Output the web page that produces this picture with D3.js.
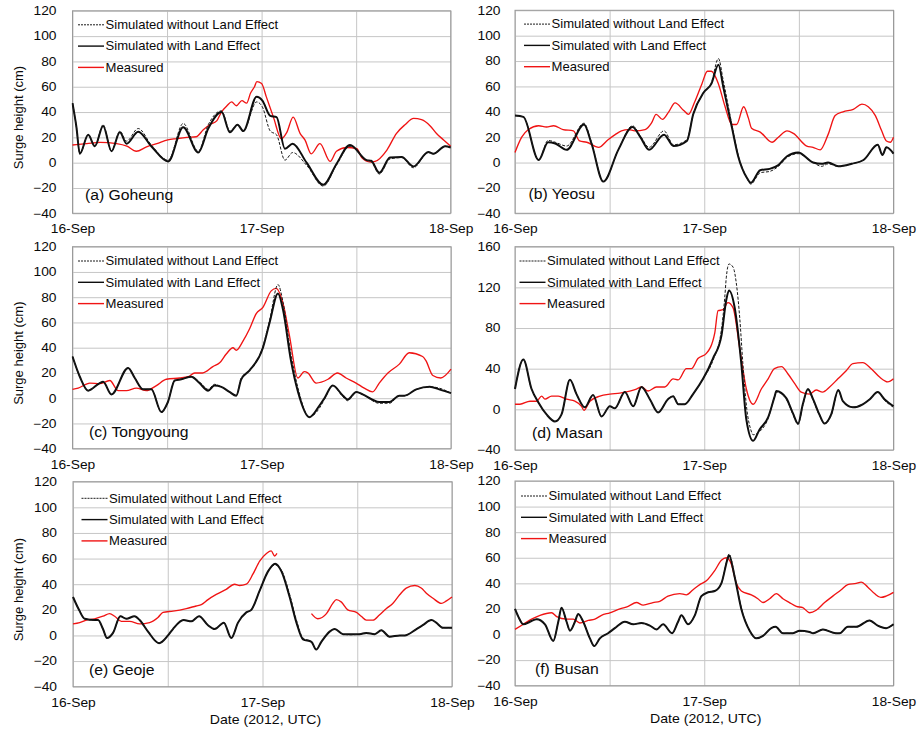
<!DOCTYPE html>
<html>
<head>
<meta charset="utf-8">
<script src="https://cdn.jsdelivr.net/npm/d3@7"></script>
<style>
  body { margin: 0; background: #fff; }
  svg { display: block; }
  text { font-family: "Liberation Sans", Arial, Helvetica, sans-serif; fill: #0a0a0a; }
</style>
</head>
<body>
<svg id="chart" width="921" height="732"></svg>
<script>
// Surge height (cm) at six tide stations, 16-18 Sep 2012 (UTC).
// Each series is a list of [hours after 16-Sep 00:00, surge in cm].

const seriesNames = ["Simulated without Land Effect", "Simulated with Land Effect", "Measured"];
const xTickLabels = ["16-Sep", "17-Sep", "18-Sep"];
const stationLabels = ["(a) Goheung", "(b) Yeosu", "(c) Tongyoung", "(d) Masan", "(e) Geoje", "(f) Busan"];

// (a) Goheung
const goheungWithout = [[0,47],[0.5,28],[0.93,7],[1.99,22],[2.84,13],[3.89,30],[4.95,9],[6.01,25],[6.86,17],[8.34,27],[10,14],[12.15,2],[14.05,31],[15.96,9],[17.23,30],[18.92,41],[19.98,25],[20.95,30],[21.67,25],[23.37,48],[24.1,44],[25.1,25],[25.9,22],[26.96,2],[27.94,8],[29.71,-2],[31.83,-18.5],[33.5,-2],[35.22,13],[37.33,2],[37.9,1],[38.94,-9],[40.3,3],[41.78,4],[43.26,-4],[45.16,8],[45.8,7],[47.3,13],[48,12]];
const goheungWith = [[0,47],[0.5,28],[0.93,7],[1.99,22],[2.84,13],[3.89,29],[4.95,9],[6.01,24],[6.86,15],[8.34,24.5],[10,13],[12.15,1],[14.05,28],[15.96,8],[17.23,27],[18.92,40],[19.98,24],[20.95,30],[21.67,25],[23.37,52],[24.1,49],[25.1,37],[25.9,36],[26.96,11],[27.94,15],[29.71,0],[31.83,-17.5],[33.5,-1],[35.22,14],[37.33,2],[37.9,1.5],[38.94,-8],[40.3,4],[41.78,4.5],[43.26,-3],[45.16,8.5],[45.8,7],[47.3,13],[48,12]];
const goheungMeasured = [[0,14],[1.8,15],[3.5,16],[5.6,15],[6.9,13],[8.1,9],[9.4,12.5],[10.7,15],[12.1,18],[13.2,19],[14.5,20],[15.7,20.5],[16.6,26],[17.4,30],[18.3,33],[18.9,40],[19.6,45],[20.2,48],[20.8,45],[21.5,49],[22.1,47],[22.6,55],[23.1,60],[23.4,64],[24,62.5],[24.6,52],[25.5,36],[26.5,19],[27.2,24],[28,36],[28.9,23],[29.5,18],[30.3,7],[31.4,15],[32.7,1],[33.5,9],[34.8,12],[36.1,11],[36.7,4],[37.8,0.5],[38.4,1],[39.9,10],[41.1,23],[42.2,30],[43.3,35],[44.3,34],[45.4,29],[46.2,23],[47.1,18],[48,13]];

// (b) Yeosu
const yeosuWithout = [[0,37],[1.06,36],[3,2],[4.2,17.5],[5.1,16],[6.55,13],[8.75,31],[9.7,16],[11.2,-15],[13.1,10],[14.9,29],[15.9,21],[17,12],[18.9,25],[20.1,14],[21.8,18],[22.6,38],[23.9,55],[24.9,63],[25.8,82],[26.4,65],[27.5,30],[28.3,6],[29.4,-12],[29.9,-17],[31.1,-8],[32.3,-7],[33.4,-3],[34.5,4],[35.9,7],[37.8,0],[38.9,-3],[39.7,-1],[41,-3],[42.7,-1],[44.2,2],[46,14],[46.6,6],[47.1,12],[48,7]];
const yeosuWith = [[0,37],[1.06,36],[3,2],[4.2,16],[5.1,15],[6.55,10],[8.75,30],[9.7,15],[11.2,-15],[13.1,10],[14.9,28],[15.9,20],[17,10],[18.9,22],[20.1,13],[21.8,17],[22.6,38],[23.9,55],[24.9,62],[25.8,77],[26.4,60],[27.5,28],[28.3,5],[29.4,-12],[29.9,-16],[31.1,-6],[32.3,-5],[33.4,-2],[34.5,5],[35.9,8],[37.8,0],[38.9,-1],[39.7,0],[41,-3],[42.7,-1],[44.2,2],[46,14],[46.6,6],[47.1,12],[48,7]];
const yeosuMeasured = [[0,8],[0.85,20],[1.7,26],[3,29],[4,28],[4.9,29],[6.1,26],[7.4,25],[8.2,17],[9.1,16],[10.6,12],[11.8,18],[12.7,22],[13.5,25],[14.4,26],[15.2,25],[16.5,26],[17.3,31],[17.9,38],[18.7,34],[19.5,40],[20.3,47],[21.4,41],[22,38],[22.8,48],[23.7,62],[24.4,72],[24.9,72],[25.8,62],[26.6,45],[27.5,30],[28.1,30],[29,44],[29.6,35],[30,27],[31.1,24],[32.6,16],[33.4,20],[34.5,25],[35.3,23],[37,13],[37.8,12],[38.7,10],[39.7,22],[40.6,37],[41.6,40],[42.9,42],[44,46],[44.8,44],[45.7,37],[46.5,25],[47.1,17],[47.6,16],[48,20]];

// (c) Tongyoung
const tongyoungWithout = [[0,33],[0.93,17],[1.98,6],[3.46,12],[3.88,13],[4.94,3],[7.05,24],[7.9,16],[8.95,7],[10,7],[11.27,-11],[12.1,-3],[12.96,14],[13.8,15],[15.07,17],[16.1,13],[17.2,7],[18,11],[18.87,9],[19.9,5],[20.77,2],[21.4,16],[22.46,22],[24.15,41],[25,62],[26.06,90],[26.7,76],[27.7,35],[28.6,8],[30.05,-15],[31.3,-8],[31.95,-1],[33,10],[34.3,1],[34.9,-2],[36,5],[36.8,3],[38.9,-4],[40.2,-4],[41.45,2],[42.1,2],[43.6,7],[45.3,9],[46.5,8],[48,4]];
const tongyoungWith = [[0,33],[0.93,17],[1.98,6],[3.46,12],[3.88,13],[4.94,3],[7.05,24],[7.9,16],[8.95,7],[10,7],[11.27,-11],[12.1,-3],[12.96,14],[13.8,15],[15.07,17],[16.1,12],[17.2,6],[18,10],[18.87,9],[19.9,5],[20.77,2],[21.4,15],[22.46,22],[24.15,40],[25,60],[26.06,83],[26.7,70],[27.7,30],[28.6,5],[30.05,-15],[31.3,-6],[31.95,0],[33,10],[34.3,2],[34.9,-1],[36,5],[36.8,3],[38.9,-3],[40.2,-3],[41.45,2],[42.1,2],[43.6,7],[45.3,9],[46.5,7],[48,4]];
const tongyoungMeasured = [[0,7],[0.72,8],[2.2,12],[3.46,11.5],[4.73,14],[5.8,6],[6.84,6],[8.1,8],[9.37,6],[10.64,10],[11.9,15],[13.6,16],[14.65,17],[15.5,20],[16.5,20],[17.8,25],[18.66,28],[19.5,35],[20.35,40],[20.77,38],[21.6,45],[22.46,55],[23.3,67],[24.15,72],[25.2,85],[25.83,87],[26.7,75],[27.5,50],[28.58,16],[29.4,21],[29.84,20],[30.9,12],[32.4,15],[33.6,20],[34.7,16],[35.96,12],[37,8],[38.07,5],[38.9,12],[40,20],[41.45,27],[42.7,36],[44.4,33],[44.8,30],[45.7,18],[46.7,16],[48,23]];

// (d) Masan
const masanWithout = [[0,20],[1.06,49],[2.1,20],[2.95,7],[4,-5],[5.07,-12],[5.9,-5],[6.97,29],[7.8,15],[8.86,2],[9.9,14],[10.97,-7],[12.03,3],[12.66,1],[13.93,17],[14.99,3],[16.04,22],[17.1,10],[18.15,-3],[19.4,10],[20.05,13],[20.7,5],[21.53,5],[22.58,15],[23.85,30],[25.1,48],[26.17,78],[26.6,110],[26.8,130],[27.14,143],[27.65,140],[28.1,122],[28.5,90],[28.9,45],[29.4,0],[29.9,-20],[30.2,-25],[31,-22],[32.1,-9],[32.9,12],[33.15,17],[34.4,10],[35.25,-5],[35.9,-15],[36.5,4],[37.15,19],[37.8,9],[38.6,-6],[39.26,-14],[40.1,-6],[41,18],[41.58,8],[42.85,2],[44.1,5],[45,10],[46,17],[46.85,9],[48,2]];
const masanWith = [[0,20],[1.06,49],[2.1,20],[2.95,7],[4,-5],[5.07,-12],[5.9,-5],[6.97,29],[7.8,15],[8.86,2],[9.9,14],[10.97,-7],[12.03,3],[12.66,1],[13.93,17],[14.99,3],[16.04,22],[17.1,10],[18.15,-3],[19.4,10],[20.05,13],[20.7,5],[21.53,5],[22.58,15],[23.85,30],[25.1,50],[26.17,72],[26.8,108],[27.14,117],[27.86,100],[28.7,45],[29.34,-10],[30.2,-31],[31,-20],[32.1,-8],[32.9,12],[33.15,18],[34.4,11],[35.25,-4],[35.9,-14],[36.5,5],[37.15,20],[37.8,10],[38.6,-5],[39.26,-14],[40.1,-5],[41,19],[41.58,8],[42.85,2],[44.1,5],[45,10],[46,17],[46.85,10],[48,3]];
const masanMeasured = [[0,5],[0.63,5],[1.9,8],[2.74,8],[3.38,13],[3.8,10],[4.64,13],[5.49,13],[6.54,10],[7.6,8],[8.44,3],[8.74,-1],[9.5,8],[10.76,13],[12.03,15],[13.3,16],[14.56,18],[15.4,20],[16.04,22],[16.88,18],[17.94,22],[19,22],[20.05,30],[20.7,29],[21.74,40],[22.37,40],[23.2,50],[24.27,55],[25.33,75],[25.75,97],[26.38,98],[27,105],[27.65,100],[28.5,60],[29.34,20],[30.2,5],[31.24,20],[32.1,30],[32.9,40],[33.8,42],[34.6,35],[35.5,25],[36.3,17],[37.36,15],[38.2,19],[39,17],[39.9,22],[40.95,30],[42,38],[42.85,45],[44.1,46],[45.17,40],[46.2,32],[47.28,27],[48,30]];

// (e) Geoje
const geojeWithout = [[0,30],[0.76,20],[1.48,13],[2.74,12],[3.17,12],[3.8,5],[4.3,-2],[5.07,2],[6,15],[6.75,13],[7.8,15],[8.44,12],[9.5,3],[10.9,-6],[12.03,0],[12.66,5],[14,12],[15,11],[15.96,15],[17.1,8],[17.94,5],[19.1,10],[20.05,-2],[20.9,10],[21.95,18],[22.58,20],[23.64,35],[24.7,50],[25.6,55],[26.4,51],[27.44,32],[28.3,12],[29.13,-2],[30.2,-5],[30.8,-11],[31.45,-5],[32.5,3],[33.14,5],[34.2,1],[35,0.5],[36.3,1],[37.15,2],[38.2,1],[39.05,4],[40.1,-1],[41.4,0],[42,0],[43.5,5],[44.3,8],[45.4,12],[46,10],[46.85,6],[48,6]];
const geojeWith = [[0,30],[0.76,20],[1.48,13],[2.74,12],[3.17,12],[3.8,5],[4.3,-2],[5.07,2],[6,15],[6.75,13],[7.8,15],[8.44,12],[9.5,3],[10.9,-6],[12.03,0],[12.66,5],[14,12],[15,11],[15.96,15],[17.1,8],[17.94,5],[19.1,10],[20.05,-2],[20.9,10],[21.95,18],[22.58,20],[23.64,35],[24.7,50],[25.6,56],[26.4,50],[27.44,30],[28.3,10],[29.13,-3],[30.2,-5],[30.8,-11],[31.45,-5],[32.5,3],[33.14,5],[34.2,1],[35,1],[36.3,1],[37.15,2],[38.2,1],[39.05,4],[40.1,-1],[41.4,0],[42,0],[43.5,5],[44.3,8],[45.4,12],[46,10],[46.85,6],[48,6]];
const geojeMeasured = [[0,9],[0.84,10],[1.69,12],[2.74,13],[3.8,15],[4.64,17],[5.28,15],[6.12,11],[7.18,11],[8.44,9],[9.7,10],[10.76,14],[11.4,18],[12.66,19],[14.35,21],[15.6,23],[16.25,24],[17.1,28],[18.15,32],[19.4,36],[20.47,40],[21.1,39],[21.95,40],[22.8,48],[23.64,58],[24.5,64],[25.1,66],[25.54,62],[25.83,64],[27.5,null],[30.2,17],[31,13],[32.1,17],[32.9,25],[33.35,28],[34,26],[34.8,20],[35.9,18],[36.5,15],[37.15,12],[38,12],[38.8,16],[39.7,21],[40.5,25],[41.4,32],[42.2,37],[43.3,39],[44.1,37],[44.75,33],[45.6,29],[46.65,25],[47.3,27],[48,30]];

// (f) Busan
const busanWithout = [[0,20],[0.42,14],[1.06,8],[1.9,10],[2.74,12],[3.8,8],[4.85,-5],[5.49,10],[5.9,21],[6.54,10],[6.97,3],[7.6,10],[8.02,16],[8.65,10],[9.5,-3],[10.05,-9],[10.76,-3],[11.8,1],[12.66,5],[13.93,10],[14.99,8],[16.04,9],[17.1,7],[17.94,4],[18.78,8],[19.92,1],[20.68,10],[21.1,15],[21.95,8],[22.8,15],[23.64,30],[24.48,33],[25.33,34],[26.17,40],[27,61],[27.14,63],[27.86,46],[28.7,21],[29.76,3],[30.6,-3],[31.45,-1],[32.5,5],[33.05,6],[33.98,1],[35.25,1],[36.1,2.5],[37.36,2],[37.8,1],[39.05,4],[40.7,1],[41.16,1],[42.2,6],[43.27,6],[44.96,11],[46,7],[47.06,5],[48,8]];
const busanWith = [[0,20],[0.42,14],[1.06,8],[1.9,10],[2.74,12],[3.8,8],[4.85,-5],[5.49,10],[5.9,21],[6.54,10],[6.97,3],[7.6,10],[8.02,16],[8.65,10],[9.5,-3],[10.05,-9],[10.76,-3],[11.8,1],[12.66,5],[13.93,10],[14.99,8],[16.04,9],[17.1,7],[17.94,4],[18.78,8],[19.92,1],[20.68,10],[21.1,15],[21.95,8],[22.8,15],[23.64,30],[24.48,33],[25.33,34],[26.17,40],[27,60],[27.14,62],[27.86,45],[28.7,20],[29.76,3],[30.6,-3],[31.45,-1],[32.5,5],[33.05,6],[33.98,1],[35.25,1],[36.1,3],[37.36,2],[37.8,1],[39.05,4],[40.7,1],[41.16,1],[42.2,6],[43.27,6],[44.96,11],[46,7],[47.06,5],[48,8]];
const busanMeasured = [[0,4],[1.06,8],[2.1,12],[3.17,15],[4.64,17],[5.28,14],[6.54,12],[7.39,12],[8.23,9],[9.29,11],[10.13,12],[10.97,15],[12.03,17],[13.3,20],[14.35,22],[15.4,25],[16.25,23],[17.5,25],[18.36,26],[19.4,30],[20.9,32],[21.74,31],[22.58,35],[23.43,39],[24.27,42],[25.33,50],[26.17,58],[26.8,60],[27.44,55],[28.07,40],[28.7,34],[29.97,31],[30.8,28],[31.45,25],[32.3,28],[33.14,32],[33.98,28],[34.8,25],[35.67,22],[36.5,21],[37.36,17],[38.2,19],[39.26,25],[40.3,30],[41.37,35],[42.2,39],[43.27,40],[43.9,41],[44.75,37],[45.6,32],[46.4,29],[47.06,30],[48,33]];

// y-axis ranges per station
const yDomains = [[-40,120],[-40,120],[-40,120],[-40,160],[-40,120],[-40,120]];
const yTickSteps = [20, 20, 20, 40, 20, 20];

// ---- layout (pixels) ----
const panelLayout = [
  { left: 72.5, top: 10.8, width: 378.2, height: 202.5, legend: [5.5, 14],  tag: [12.5, -13.5], yTitle: true },
  { left: 515,  top: 10.3, width: 378.5, height: 203,   legend: [9, 13.8],  tag: [13.5, -14] },
  { left: 72.5, top: 246.7, width: 378.5, height: 202,  legend: [5.5, 14.3], tag: [16.5, -12], yTitle: true },
  { left: 515,  top: 246.7, width: 378.5, height: 203.3, legend: [4.5, 14.3], tag: [17, -12] },
  { left: 73,   top: 481.7, width: 379,  height: 205,   legend: [8.5, 16.6], tag: [16, -12], yTitle: true },
  { left: 515,  top: 481,   width: 378.5, height: 204.7, legend: [6, 15],  tag: [20, -12] }
];

const stationSeries = [
  [goheungWithout, goheungWith, goheungMeasured],
  [yeosuWithout, yeosuWith, yeosuMeasured],
  [tongyoungWithout, tongyoungWith, tongyoungMeasured],
  [masanWithout, masanWith, masanMeasured],
  [geojeWithout, geojeWith, geojeMeasured],
  [busanWithout, busanWith, busanMeasured]
];

const seriesStyles = [
  { stroke: "#1a1a1a", width: 1.0, dash: "3,1.6" },
  { stroke: "#0d0d0d", width: 2.0, dash: null },
  { stroke: "#f01414", width: 1.35, dash: null }
];

const t0 = Date.UTC(2012, 8, 16);
const toDate = h => new Date(t0 + h * 3600e3);

const svg = d3.select("#chart");
const fmtDay = d3.utcFormat("%-d-%b");
const STRETCH = 1.15;

stationSeries.forEach((series, i) => {
  const L = panelLayout[i];
  const g = svg.append("g").attr("transform", `translate(${L.left},${L.top})`);

  const x = d3.scaleUtc().domain([toDate(0), toDate(48)]).range([0, L.width]);
  const y = d3.scaleLinear().domain(yDomains[i]).range([L.height, 0]);
  const yTicks = d3.range(yDomains[i][0], yDomains[i][1] + 0.1, yTickSteps[i]);

  // horizontal grid
  g.append("g")
    .call(d3.axisLeft(y).tickValues(yTicks).tickSize(-L.width).tickFormat(""))
    .call(s => s.select(".domain").remove())
    .call(s => s.selectAll("line").attr("stroke", "#c6c6c6").attr("stroke-width", 1));

  // vertical grid every 12 h
  g.append("g")
    .attr("transform", `translate(0,${L.height})`)
    .call(d3.axisBottom(x).ticks(d3.utcHour.every(12)).tickSize(-L.height).tickFormat(""))
    .call(s => s.select(".domain").remove())
    .call(s => s.selectAll("line").attr("stroke", "#c6c6c6").attr("stroke-width", 1));

  // frame
  g.append("rect")
    .attr("width", L.width).attr("height", L.height)
    .attr("fill", "none").attr("stroke", "#9a9a9a").attr("stroke-width", 1);

  // y tick labels
  const yPad = i % 2 === 0 ? 16 : 14.5;
  g.append("g")
    .call(d3.axisLeft(y).tickValues(yTicks).tickSize(0).tickPadding(0).tickFormat(d3.format("d")))
    .call(s => s.select(".domain").remove())
    .call(s => s.selectAll("text")
      .attr("x", 0)
      .attr("font-size", 12)
      .attr("font-family", null)
      .attr("fill", "#0a0a0a")
      .attr("transform", `translate(${-yPad},0) scale(${STRETCH},1)`));

  // x tick labels
  g.append("g")
    .attr("transform", `translate(0,${L.height})`)
    .call(d3.axisBottom(x).ticks(d3.utcDay.every(1)).tickSize(0).tickPadding(11.3)
      .tickFormat(d => xTickLabels[Math.round((d - t0) / 864e5)] || fmtDay(d)))
    .call(s => s.select(".domain").remove())
    .call(s => s.selectAll("text")
      .attr("font-size", 12)
      .attr("font-family", null)
      .attr("fill", "#0a0a0a")
      .attr("transform", `scale(${STRETCH},1)`));

  // series
  const clipId = `clip${i}`;
  g.append("clipPath").attr("id", clipId)
    .append("rect").attr("x", -1).attr("y", -1).attr("width", L.width + 2).attr("height", L.height + 2);

  const line = d3.line()
    .defined(d => d[1] !== null)
    .x(d => x(toDate(d[0])))
    .y(d => y(d[1]))
    .curve(d3.curveMonotoneX);

  const plot = g.append("g").attr("clip-path", `url(#${clipId})`);
  [2, 1, 0].forEach(k => {
    const st = seriesStyles[k];
    plot.append("path")
      .datum(series[k])
      .attr("fill", "none")
      .attr("stroke", st.stroke)
      .attr("stroke-width", st.width)
      .attr("stroke-dasharray", st.dash)
      .attr("stroke-linejoin", "round")
      .attr("d", line);
  });

  // legend
  const lg = g.append("g").attr("transform", `translate(${L.legend[0]},${L.legend[1]})`);
  seriesNames.forEach((name, k) => {
    const st = seriesStyles[k];
    const row = lg.append("g").attr("transform", `translate(0,${k * 21.3})`);
    row.append("line")
      .attr("x1", 0).attr("x2", 26)
      .attr("stroke", st.stroke)
      .attr("stroke-width", k === 0 ? 1 : 1.4)
      .attr("stroke-dasharray", k === 0 ? "2,1" : null);
    row.append("text")
      .attr("transform", `translate(27.5,0) scale(1.09,1)`)
      .attr("dy", "0.36em")
      .attr("font-size", 12)
      .text(name);
  });

  // station tag
  g.append("text")
    .attr("transform", `translate(${L.tag[0]},${L.height + L.tag[1]}) scale(1.05,1)`)
    .attr("font-size", 15)
    .text(stationLabels[i]);

  // y-axis title (left column)
  if (L.yTitle) {
    g.append("text")
      .attr("transform", `translate(${22.5 - L.left},${L.height / 2 + 5.5}) rotate(-90)`)
      .attr("text-anchor", "middle")
      .attr("font-size", 13)
      .text("Surge height (cm)");
  }

  // x-axis title (bottom row)
  if (i >= 4) {
    g.append("text")
      .attr("transform", `translate(${L.width / 2 + (i === 4 ? 3 : 1.5)},${L.height + 37}) scale(1.13,1)`)
      .attr("text-anchor", "middle")
      .attr("font-size", 12.5)
      .text("Date (2012, UTC)");
  }
});
</script>
</body>
</html>
